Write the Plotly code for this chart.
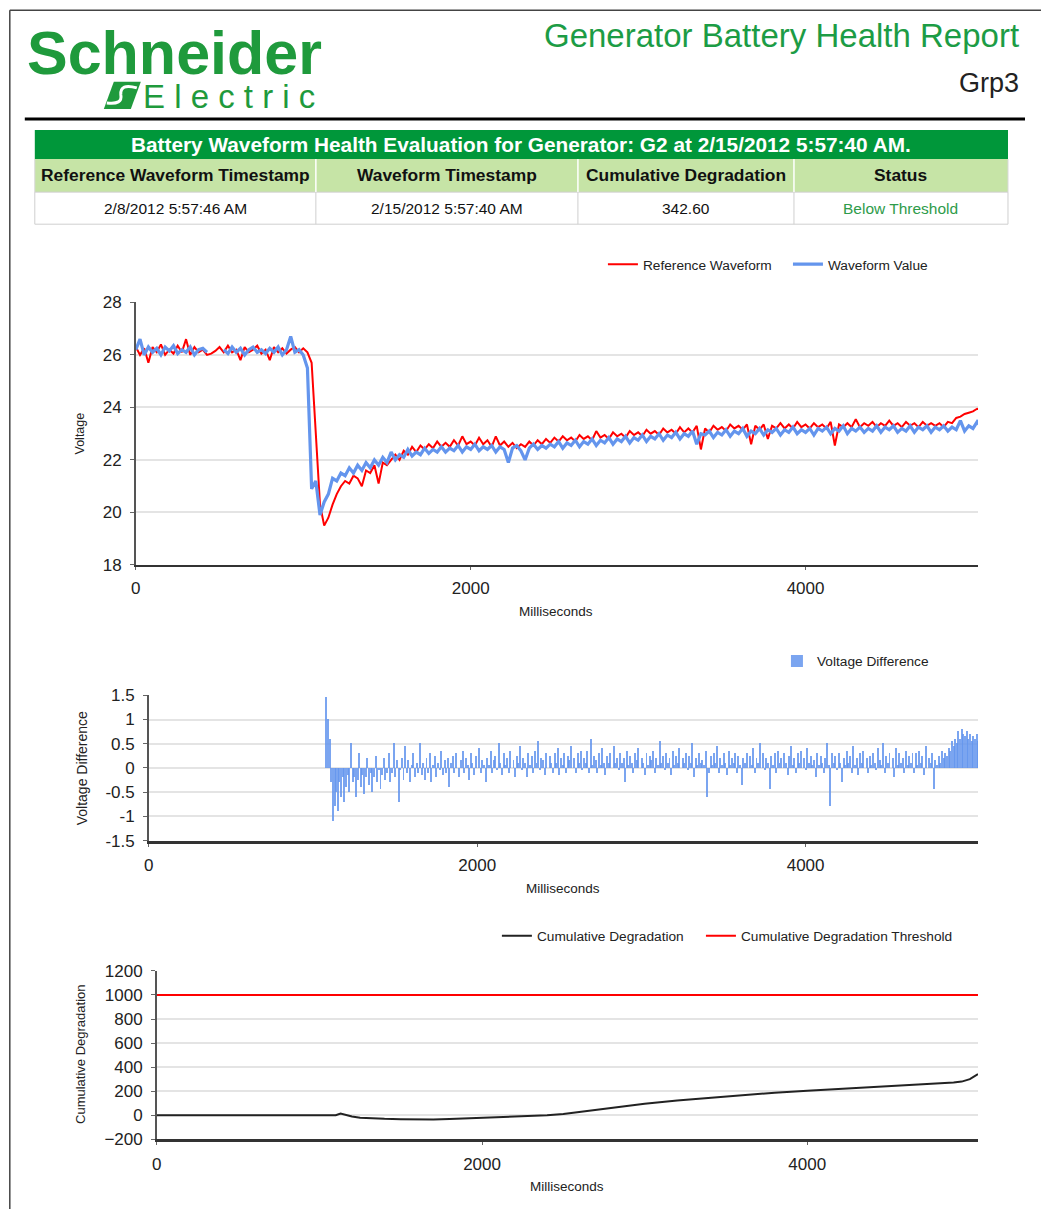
import plotly.graph_objects as go

W, H = 1041, 1209
# correction measured between requested and photographed positions
SX, BX = 0.995, 5.2
SY, BY = 0.982, 10.3


def px(x):
    return ((x - BX) / SX) / W


def py(y):
    return 1 - ((y - BY) / SY) / H


# ---------------- DATA ----------------
report_title = "Generator Battery Health Report"
group_name = "Grp3"
table_title = "Battery Waveform Health Evaluation for Generator: G2 at 2/15/2012 5:57:40 AM."
table_headers = ["Reference Waveform Timestamp", "Waveform Timestamp", "Cumulative Degradation", "Status"]
table_values = ["2/8/2012 5:57:46 AM", "2/15/2012 5:57:40 AM", "342.60", "Below Threshold"]

# waveform samples every 25 ms, 0..5050
t_wave = list(range(0, 5051, 25))
ref_wave = [
    26.3, 26.0, 26.25, 25.7,   26.3, 26.1, 26.4, 26.0,   26.2, 26.05, 26.35, 26.1,
    26.6, 26.0, 26.3, 26.1,    26.2, 26.0, 26.05, 26.15, 26.3, 26.1, 26.35, 26.1,
    26.2, 25.8, 26.3, 26.1,    26.2, 26.35, 26.05, 26.2, 25.8, 26.3, 26.1, 26.25,
    26.05, 26.2, 26.3, 26.1,   26.25, 26.1, 25.7, 23.0,  20.3, 19.5, 19.8, 20.3,
    20.7, 21.0, 21.2, 21.1,    21.4, 21.3, 21.0, 21.6,   21.5, 21.8, 21.1, 21.9,
    21.8, 22.0, 22.2, 22.0,    22.35, 22.2, 22.5, 22.3,  22.55, 22.4, 22.6, 22.45,
    22.7, 22.5, 22.65, 22.5,   22.75, 22.55, 22.9, 22.6, 22.7, 22.55, 22.85, 22.6,
    22.75, 22.5, 22.9, 22.55,  22.7, 22.5, 22.65, 22.45, 22.6, 22.5, 22.7, 22.55,
    22.75, 22.6, 22.8, 22.65,  22.85, 22.7, 22.9, 22.75, 22.85, 22.7, 22.95, 22.8,
    22.9, 22.75, 23.1, 22.85,  22.95, 22.8, 23.05, 22.9, 23.0, 22.85, 23.1, 22.95,
    23.05, 22.9, 23.15, 23.0,  23.1, 22.95, 23.2, 23.05, 23.15, 23.0, 23.25, 23.05,
    23.2, 23.05, 23.3, 22.4,   23.2, 23.05, 23.3, 23.15, 23.25, 23.1, 23.35, 23.2,
    23.3, 23.15, 23.35, 22.6,  23.3, 23.15, 23.35, 22.8, 23.3, 23.2, 23.4, 23.2,
    23.35, 23.2, 23.45, 23.25, 23.35, 23.2, 23.4, 23.25, 23.35, 23.2, 23.45, 22.55,
    23.35, 23.25, 23.4, 23.25, 23.55, 23.25, 23.4, 23.3, 23.45, 23.25, 23.4, 23.3,
    23.5, 23.3, 23.4, 23.25,   23.45, 23.3, 23.4, 23.25, 23.45, 23.3, 23.4, 23.3,
    23.4, 23.25, 23.45, 23.4,  23.6, 23.65, 23.75, 23.8, 23.85, 23.95, 23.9,
]
val_wave = [
    26.2, 26.6, 26.0, 26.3,    26.1, 26.25, 26.0, 26.3,  26.15, 26.35, 26.05, 26.2,
    26.1, 26.3, 26.0, 26.2,    26.25, 26.1, None, None,  None, 26.2, 26.05, 26.3,
    26.1, 26.25, 26.0, 26.2,   26.3, 26.1, 26.2, 26.05,  26.25, 26.1, 26.3, 26.0,
    26.2, 26.7, 26.1, 26.2,    26.0, 25.5, 20.9, 21.2,   19.9, 20.4, 20.7, 21.3,
    21.2, 21.5, 21.4, 21.7,    21.5, 21.8, 21.6, 21.9,   21.7, 22.0, 21.8, 22.1,
    21.9, 22.3, 22.0, 22.2,    22.1, 22.4, 22.15, 22.3,  22.2, 22.45, 22.25, 22.4,
    22.3, 22.5, 22.3, 22.45,   22.35, 22.55, 22.3, 22.5, 22.4, 22.6, 22.35, 22.5,
    22.4, 22.55, 22.3, 22.5,   22.4, 21.9, 22.45, 22.55, 22.35, 22.0, 22.45, 22.6,
    22.4, 22.55, 22.45, 22.6,  22.5, 22.7, 22.45, 22.65, 22.55, 22.75, 22.5, 22.7,
    22.6, 22.8, 22.55, 22.75,  22.65, 22.85, 22.6, 22.8, 22.7, 22.9, 22.65, 22.85,
    22.75, 22.95, 22.7, 22.9,  22.8, 23.0, 22.75, 22.95, 22.85, 23.05, 22.8, 23.0,
    22.9, 23.1, 22.6, 23.0,    22.95, 23.1, 22.85, 23.05, 22.95, 23.15, 22.9, 23.1,
    23.0, 23.2, 22.9, 23.1,    23.0, 23.2, 22.95, 23.15, 23.05, 23.2, 22.95, 23.15,
    23.05, 23.25, 23.0, 23.15, 23.05, 23.2, 22.95, 23.2, 23.1, 23.25, 23.0, 23.2,
    23.1, 23.3, 23.0, 23.2,    23.1, 23.25, 23.05, 23.2, 23.1, 23.3, 23.05, 23.25,
    23.15, 23.3, 23.05, 23.2,  23.1, 23.3, 23.05, 23.25, 23.15, 23.3, 23.05, 23.25,
    23.15, 23.3, 23.1, 23.25,  23.15, 23.5, 23.1, 23.3,  23.2, 23.45, 23.25,
]

# voltage difference samples every 10 ms, 1060..5050
t_diff = list(range(1060, 5051, 10))
volt_diff = [
    0.0, 0.0, 1.45, 1.0, 0.6, -0.3, -1.1, -0.8, -0.5, -0.9, -0.3, -0.6, -0.2, -0.7, -0.4, -0.15, -0.5, 0.5, -0.3, -0.2,
    -0.6, -0.25, 0.3, -0.4, -0.15, -0.55, -0.2, 0.2, -0.35, -0.1, -0.5, -0.2, 0.25, -0.3, -0.05, -0.45, -0.15, 0.2, -0.25, -0.1,
    0.3, -0.3, -0.1, 0.5, -0.2, 0.15, -0.7, -0.05, 0.2, -0.25, 0.45, -0.1, 0.15, -0.3, 0.05, 0.3, -0.2, 0.1, -0.1, 0.5,
    -0.15, 0.1, -0.25, 0.2, -0.1, 0.3, -0.3, 0.05, 0.25, -0.2, 0.1, -0.05, 0.35, -0.15, 0.15, -0.1, 0.2, -0.4, 0.1, 0.25,
    -0.1, 0.3, 0.0, -0.2, 0.15, 0.35, -0.1, 0.2, 0.05, -0.25, 0.3, 0.1, -0.15, 0.25, 0.0, 0.4, -0.1, 0.15, 0.05, -0.3,
    0.2, 0.05, 0.35, -0.1, 0.15, 0.25, -0.05, 0.5, 0.1, -0.15, 0.3, 0.05, 0.2, -0.1, 0.35, 0.0, 0.15, -0.2, 0.25, 0.1,
    0.45, -0.05, 0.2, 0.1, -0.2, 0.3, 0.05, 0.25, -0.1, 0.35, 0.1, 0.55, -0.05, 0.2, 0.15, -0.15, 0.3, 0.0, 0.25, 0.1,
    -0.1, 0.3, 0.1, 0.4, -0.15, 0.2, 0.05, 0.3, -0.1, 0.25, 0.15, 0.45, 0.0, 0.2, -0.1, 0.3, 0.1, 0.35, -0.05, 0.2,
    0.1, 0.35, -0.1, 0.6, 0.05, 0.25, 0.15, -0.1, 0.3, 0.05, 0.4, 0.1, -0.15, 0.25, 0.1, 0.3, 0.0, 0.45, 0.1, 0.2,
    -0.05, 0.3, 0.1, 0.2, -0.3, 0.35, 0.05, 0.25, 0.1, -0.1, 0.3, 0.15, 0.4, 0.0, 0.2, 0.1, -0.15, 0.3, 0.05, 0.25,
    0.15, 0.35, -0.1, 0.2, 0.05, 0.55, 0.1, 0.25, -0.05, 0.3, 0.1, 0.2, -0.15, 0.35, 0.05, 0.25, 0.1, 0.4, 0.0, 0.2,
    0.1, 0.3, -0.05, 0.25, 0.1, 0.5, -0.2, 0.2, 0.05, 0.3, 0.1, 0.15, 0.05, 0.35, -0.6, -0.1, 0.25, 0.05, 0.3, 0.1,
    0.45, -0.1, 0.2, 0.05, 0.3, 0.1, -0.15, 0.35, 0.05, 0.2, 0.1, 0.3, -0.1, 0.25, 0.05, -0.35, 0.2, 0.1, 0.3, 0.0,
    0.25, 0.05, 0.4, -0.1, 0.2, 0.1, 0.5, 0.0, 0.3, -0.05, 0.2, 0.1, -0.45, 0.25, 0.05, 0.3, -0.1, 0.35, 0.1, 0.2,
    0.0, 0.3, 0.1, -0.15, 0.25, 0.45, 0.05, 0.2, -0.1, 0.3, 0.1, 0.35, 0.0, 0.2, -0.05, 0.4, 0.1, 0.25, 0.05, 0.15,
    -0.2, 0.3, 0.05, 0.25, 0.1, -0.1, 0.2, 0.5, 0.05, -0.8, 0.3, 0.1, 0.25, -0.05, 0.3, 0.1, -0.3, 0.2, 0.05, 0.35,
    0.1, 0.25, -0.1, 0.45, 0.05, 0.2, -0.15, 0.3, 0.1, 0.35, 0.0, 0.2, -0.1, 0.25, 0.05, 0.3, 0.1, -0.05, 0.4, 0.15,
    0.05, 0.5, -0.1, 0.25, 0.1, 0.3, 0.0, 0.2, -0.2, 0.4, 0.05, 0.3, 0.1, 0.2, -0.1, 0.35, 0.05, 0.25, 0.1, 0.3,
    -0.1, 0.3, 0.05, 0.35, 0.1, 0.25, -0.15, 0.45, 0.0, 0.2, 0.1, 0.3, -0.45, 0.15, 0.05, 0.25, 0.1, 0.35, 0.2, 0.3,
    0.25, 0.4, 0.35, 0.55, 0.45, 0.6, 0.5, 0.75, 0.6, 0.8, 0.7, 0.65, 0.75, 0.6, 0.7, 0.55, 0.65, 0.6, 0.7, 0.55,
]

t_cum = [0, 1100, 1130, 1160, 1200, 1250, 1300, 1400, 1500, 1600, 1700, 1800, 1900,
         2000, 2100, 2200, 2300, 2400, 2500, 2600, 2700, 2800, 2900, 3000, 3200, 3400,
         3600, 3800, 4000, 4200, 4400, 4600, 4800, 4900, 4950, 5000, 5050]
cum_deg = [0, 0, 15, 5, -10, -20, -25, -30, -33, -36, -35, -32, -27,
           -20, -15, -8, -3, 0, 10, 28, 45, 62, 78, 95, 122, 145,
           170, 188, 203, 217, 231, 245, 262, 272, 280, 300, 343]
t_threshold = [0, 5050]
cum_threshold = [1000, 1000]

x_ticks = [0, 2000, 4000]
v_ticks = [18, 20, 22, 24, 26, 28]
d_ticks = [-1.5, -1, -0.5, 0, 0.5, 1, 1.5]
d_tick_text = ["-1.5", "-1", "-0.5", "0", "0.5", "1", "1.5"]
c_ticks = [-200, 0, 200, 400, 600, 800, 1000, 1200]

# ---------------- STYLE ----------------
FONT = "Liberation Sans"
GREEN = "#1f9a3c"
RED = "#ff0000"
BLUE = "#6495ED"
GRID = "#e4e4e4"
TXT = "#222222"
TICK = 17
LEG = 13.7

fig = go.Figure()

fig.add_trace(go.Scatter(x=t_wave, y=ref_wave, mode="lines", name="Reference Waveform",
                         line=dict(color=RED, width=2), xaxis="x", yaxis="y", legend="legend"))
fig.add_trace(go.Scatter(x=t_wave, y=val_wave, mode="lines", name="Waveform Value",
                         line=dict(color=BLUE, width=3.2), xaxis="x", yaxis="y", legend="legend4"))
fig.add_trace(go.Bar(x=t_diff, y=volt_diff, name="Voltage Difference", width=12,
                     marker=dict(color="rgba(100,149,237,0.85)", line=dict(width=0)),
                     xaxis="x2", yaxis="y2", legend="legend2"))
fig.add_trace(go.Scatter(x=t_cum, y=cum_deg, mode="lines", name="Cumulative Degradation",
                         line=dict(color="#222222", width=2), xaxis="x3", yaxis="y3", legend="legend3"))
fig.add_trace(go.Scatter(x=t_threshold, y=cum_threshold, mode="lines", name="Cumulative Degradation Threshold",
                         line=dict(color=RED, width=2), xaxis="x3", yaxis="y3", legend="legend5"))


def xax(domain, anchor, lw, xmax):
    return dict(domain=domain, anchor=anchor, range=[0, xmax], tickvals=x_ticks,
                showgrid=False, zeroline=False, showline=True, linecolor="#333", linewidth=lw,
                ticks="outside", ticklen=3, tickcolor="#666", ticklabelstandoff=4,
                tickfont=dict(family=FONT, size=TICK, color=TXT))


def yax(domain, anchor, rng, tickvals, ticktext=None):
    d = dict(domain=domain, anchor=anchor, range=rng, tickvals=tickvals,
             showgrid=True, gridcolor=GRID, gridwidth=2, zeroline=False,
             showline=True, linecolor="#555", linewidth=1.5,
             ticks="outside", ticklen=4, tickcolor="#666", ticklabelstandoff=5,
             tickfont=dict(family=FONT, size=TICK, color=TXT))
    if ticktext:
        d["ticktext"] = ticktext
    return d


def leg(x, y):
    return dict(x=px(x), y=py(y), xanchor="left", yanchor="middle", orientation="h",
                font=dict(family=FONT, size=LEG, color=TXT), bgcolor="rgba(0,0,0,0)")


layout = dict(
    width=W, height=H, margin=dict(l=0, r=0, t=0, b=0),
    paper_bgcolor="white", plot_bgcolor="white",
    font=dict(family=FONT, color=TXT), bargap=0, showlegend=True,
    xaxis=xax([px(136), px(978)], "y", 2, 5030),
    yaxis=yax([py(565), py(303)], "x", [18, 28], v_ticks),
    xaxis2=xax([px(149), px(978)], "y2", 3, 5050),
    yaxis2=yax([py(840), py(695)], "x2", [-1.5, 1.5], d_ticks, d_tick_text),
    xaxis3=xax([px(157), px(978)], "y3", 3, 5050),
    yaxis3=yax([py(1138), py(970)], "x3", [-200, 1200], c_ticks),
    legend=leg(603, 265),
    legend4=leg(788, 265),
    legend2=leg(777, 661),
    legend3=leg(497, 935),
    legend5=leg(701, 935),
)
fig.update_layout(**layout)

shapes = []
ann = []


def line(x0, y0, x1, y1, color, width):
    shapes.append(dict(type="line", xref="paper", yref="paper", x0=px(x0), y0=py(y0),
                       x1=px(x1), y1=py(y1), line=dict(color=color, width=width)))


def rect(x0, y0, x1, y1, fill, lcolor=None, lw=0):
    shapes.append(dict(type="rect", xref="paper", yref="paper", x0=px(x0), y0=py(y0),
                       x1=px(x1), y1=py(y1), fillcolor=fill, layer="below",
                       line=dict(color=lcolor or fill, width=lw)))


def text(x, y, s, size, color=TXT, bold=False, xanchor="center", angle=0, family=FONT, height=None):
    a = dict(xref="paper", yref="paper", x=px(x), y=py(y), text=("<b>%s</b>" % s) if bold else s,
             showarrow=False, xanchor=xanchor, yanchor="middle", textangle=angle,
             font=dict(family=family, size=size, color=color))
    if height:
        a["height"] = height
        a["valign"] = "middle"
    ann.append(a)


def path(cmds, fill=None, color=None, width=0, closed=True):
    d = ""
    for cmd, pts in cmds:
        d += cmd + " ".join("%.5f,%.5f" % (px(a), py(b)) for a, b in pts) + " "
    if closed:
        d += "Z"
    shapes.append(dict(type="path", xref="paper", yref="paper", path=d.strip(),
                       fillcolor=fill if fill else "rgba(0,0,0,0)",
                       line=dict(color=color or "rgba(0,0,0,0)", width=width)))


# page frame
line(10, 11.5, 10, 1209, "#444", 1.5)
line(10, 11.5, 1041, 11.5, "#444", 1.5)
# header rule
line(25, 120, 1025, 120, "#000", 3)

# logo
text(175, 54, "Schneider", 61, GREEN, bold=True, height=54)
path([("M", [(114, 83)]), ("L", [(141, 83)]), ("L", [(131, 110)]), ("L", [(104, 110)])], fill=GREEN)
path([("M", [(137, 89)]), ("Q", [(120, 84), (121, 96)]), ("Q", [(123, 106), (107, 104)])],
     color="white", width=3, closed=False)
text(229, 97, "E l e c t r i c", 33, GREEN, height=28)

# title
text(1021, 37, report_title, 33, "#1c9c45", xanchor="right")
text(1021, 84, group_name, 27, TXT, xanchor="right")

# table
cols = [35, 316, 578, 794, 1008]
rect(35, 131, 1008, 160, "#00973a")
rect(35, 160, 1008, 193, "#c6e4a6")
rect(35, 193, 1008, 225, "white", "#cfcfcf", 1)
for c in cols[1:-1]:
    line(c, 160, c, 193, "white", 1.5)
    line(c, 193, c, 225, "#cfcfcf", 1)
line(35, 160, 35, 193, "#d8d8d8", 1)
line(1008, 160, 1008, 193, "#d8d8d8", 1)
text(521, 145, table_title, 20.8, "white", bold=True)
for i in range(4):
    cx = (cols[i] + cols[i + 1]) / 2
    text(cx, 176, table_headers[i], 17.4, "#111", bold=True)
    text(cx, 209, table_values[i], 15.5, "#2e9b4a" if i == 3 else "#111")

# axis titles
text(80, 434, "Voltage", 12.5, TXT, angle=-90)
text(556, 611, "Milliseconds", 13.5, TXT)
text(83, 768, "Voltage Difference", 14, TXT, angle=-90)
text(563, 888, "Milliseconds", 13.5, TXT)
text(80, 1053, "Cumulative Degradation", 13, TXT, angle=-90)
text(567, 1185, "Milliseconds", 13.5, TXT)

fig.update_layout(shapes=shapes, annotations=ann)
fig.write_html("out.html", config={"displayModeBar": False},
               post_script="document.body.style.margin='0px';document.body.style.overflow='hidden';")
